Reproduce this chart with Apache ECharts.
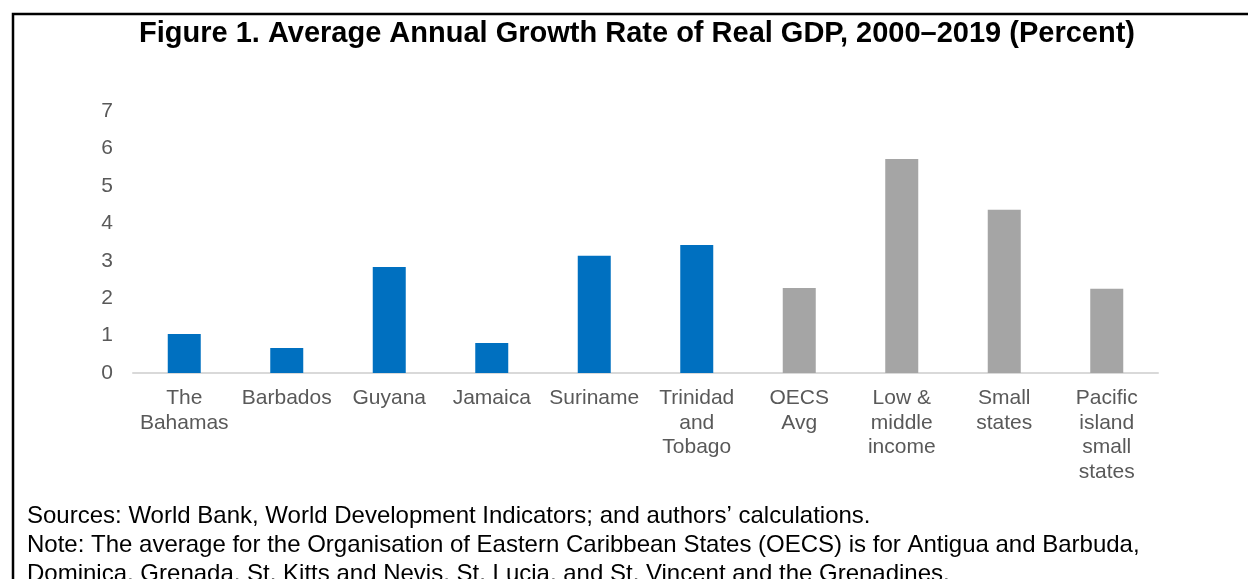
<!DOCTYPE html>
<html>
<head>
<meta charset="utf-8">
<script src="https://cdn.jsdelivr.net/npm/echarts@6/dist/echarts.min.js"></script>
<style>
  html, body { margin: 0; padding: 0; background: #fff; overflow: hidden; }
  #chart { width: 1248px; height: 579px; }
</style>
</head>
<body>
<div id="chart"></div>
<script>
// Average annual real GDP growth, 2000–2019 (percent)
const categories = [
  'The\nBahamas', 'Barbados', 'Guyana', 'Jamaica', 'Suriname',
  'Trinidad\nand\nTobago', 'OECS\nAvg', 'Low &\nmiddle\nincome', 'Small\nstates',
  'Pacific\nisland\nsmall\nstates'
];
const growth = [1.04, 0.67, 2.83, 0.80, 3.13, 3.42, 2.27, 5.72, 4.36, 2.25];
// 'country' = Caribbean economies, 'group' = comparator aggregates
const kind = ['country', 'country', 'country', 'country', 'country', 'country',
  'group', 'group', 'group', 'group'];
const yTicks = [0, 1, 2, 3, 4, 5, 6, 7];

const titleText = 'Figure 1. Average Annual Growth Rate of Real GDP, 2000–2019 (Percent)';
const noteLines = [
  'Sources: World Bank, World Development Indicators; and authors’ calculations.',
  'Note: The average for the Organisation of Eastern Caribbean States (OECS) is for Antigua and Barbuda,',
  'Dominica, Grenada, St. Kitts and Nevis, St. Lucia, and St. Vincent and the Grenadines.'
];

const kindColor = { country: '#0070C0', group: '#A5A5A5' };
const font = 'Arial, "Liberation Sans", Helvetica, sans-serif';

const chart = echarts.init(document.getElementById('chart'), null, { renderer: 'canvas' });

const noteGraphics = noteLines.map((line, i) => ({
  type: 'text',
  left: 27,
  top: 504 + i * 29,
  style: { text: line, font: '24px ' + font, fill: '#000' }
}));

chart.setOption({
  animation: false,
  backgroundColor: '#fff',
  graphic: [
    {
      type: 'polyline',
      shape: { points: [[13, 579], [13, 14], [1248, 14]] },
      style: { stroke: '#000', lineWidth: 2.5, fill: null }
    },
    {
      type: 'text',
      x: 637,
      y: 34,
      style: {
        text: titleText,
        font: 'bold 29px ' + font,
        fill: '#000',
        textAlign: 'center',
        textVerticalAlign: 'middle'
      }
    },
    ...noteGraphics
  ],
  grid: { left: 133, right: 90, top: 111, bottom: 206, containLabel: false },
  xAxis: {
    type: 'category',
    data: categories,
    axisLine: { lineStyle: { color: '#D9D9D9', width: 2 } },
    axisTick: { show: false },
    axisLabel: {
      interval: 0,
      margin: 13,
      color: '#595959',
      fontFamily: font,
      fontSize: 21,
      lineHeight: 24.5,
      align: 'center'
    }
  },
  yAxis: {
    type: 'value',
    min: yTicks[0],
    max: yTicks[yTicks.length - 1],
    interval: 1,
    axisLine: { show: false },
    axisTick: { show: false },
    splitLine: { show: false },
    axisLabel: { margin: 20, color: '#595959', fontFamily: font, fontSize: 21 }
  },
  series: [{
    type: 'bar',
    barWidth: 33,
    data: growth.map((v, i) => ({ value: v, itemStyle: { color: kindColor[kind[i]] } }))
  }]
});
</script>
</body>
</html>
